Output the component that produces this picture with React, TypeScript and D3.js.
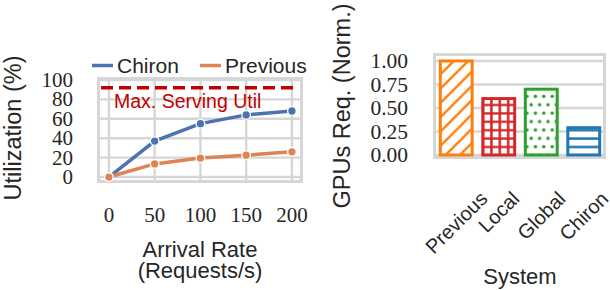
import React, { useEffect, useRef } from 'react';
import * as d3 from 'd3';

// left panel: utilization vs arrival rate
const rates = [0, 50, 100, 150, 200];
const chironUtil = [0, 37, 55, 64, 68];
const previousUtil = [0, 13.5, 19.5, 22.5, 26];
const maxServingUtil = 92;
const utilTicks = [0, 20, 40, 60, 80, 100];

// right panel: normalized GPUs required per system
const systems = ['Previous', 'Local', 'Global', 'Chiron'];
const gpusNorm = [1.0, 0.6, 0.7, 0.29];
const gpuTicks = [0, 0.25, 0.5, 0.75, 1.0];

const SANS = "'Liberation Sans', Arial, sans-serif";
const SERIF = "'Liberation Serif', 'Times New Roman', serif";
const INK = '#262626';
const GRID = '#d6d6d6';

const App: React.FC = () => {
  const svgRef = useRef<SVGSVGElement>(null);

  useEffect(() => {
    const root = d3.select(svgRef.current);
    root.selectAll('*').remove();

    const defs = root.append('defs');

    // ---------- left chart ----------
    const x = d3.scaleLinear().domain([-13, 211]).range([97, 302]);
    const y = d3.scaleLinear().domain([-4.6, 101.5]).range([181.5, 78.5]);
    const left = root.append('g');

    // grid
    left.selectAll('line.hgrid')
      .data(utilTicks)
      .enter()
      .append('line')
      .attr('x1', 98.5).attr('x2', 301.5)
      .attr('y1', d => y(d)).attr('y2', d => y(d))
      .attr('stroke', GRID).attr('stroke-width', 2.4);
    left.selectAll('line.vgrid')
      .data(rates)
      .enter()
      .append('line')
      .attr('x1', d => x(d)).attr('x2', d => x(d))
      .attr('y1', 78.5).attr('y2', 181.5)
      .attr('stroke', GRID).attr('stroke-width', 2.4);
    left.append('rect')
      .attr('x', 98.5).attr('y', 78.5)
      .attr('width', 203).attr('height', 103)
      .attr('fill', 'none').attr('stroke', GRID).attr('stroke-width', 3);

    // max serving util
    left.append('line')
      .attr('x1', 101).attr('x2', 299)
      .attr('y1', y(maxServingUtil)).attr('y2', y(maxServingUtil))
      .attr('stroke', '#c00000').attr('stroke-width', 3.5)
      .attr('stroke-dasharray', '12,6');
    left.append('text')
      .attr('x', 114).attr('y', 107.5)
      .style('font-family', SANS).style('font-size', '19.5px')
      .attr('fill', '#c00000')
      .text('Max. Serving Util');

    const line = d3.line<number>()
      .x((_, i) => x(rates[i]))
      .y(d => y(d));
    const series = [
      { name: 'Chiron', values: chironUtil, color: '#4c72b0' },
      { name: 'Previous', values: previousUtil, color: '#dd8452' },
    ];
    series.forEach(s => {
      left.append('path')
        .datum(s.values)
        .attr('d', line)
        .attr('fill', 'none')
        .attr('stroke', s.color)
        .attr('stroke-width', 3.5);
      left.selectAll(null)
        .data(s.values)
        .enter()
        .append('circle')
        .attr('cx', (_, i) => x(rates[i]))
        .attr('cy', d => y(d))
        .attr('r', 4.3)
        .attr('fill', s.color)
        .attr('stroke', 'white')
        .attr('stroke-width', 1.3);
    });

    // y ticks
    left.selectAll('text.ytick')
      .data(utilTicks)
      .enter()
      .append('text')
      .attr('x', 73).attr('y', d => y(d))
      .attr('dy', '0.33em')
      .attr('text-anchor', 'end')
      .style('font-family', SERIF).style('font-size', '21px')
      .attr('fill', INK)
      .text(d => String(d));
    // x ticks
    left.selectAll('text.xtick')
      .data(rates)
      .enter()
      .append('text')
      .attr('x', d => x(d)).attr('y', 222)
      .attr('text-anchor', 'middle')
      .style('font-family', SERIF).style('font-size', '21px')
      .attr('fill', INK)
      .text(d => String(d));

    left.append('text')
      .attr('x', 200).attr('y', 257)
      .attr('text-anchor', 'middle')
      .style('font-family', SANS).style('font-size', '22px')
      .attr('fill', INK)
      .text('Arrival Rate');
    left.append('text')
      .attr('x', 200).attr('y', 278)
      .attr('text-anchor', 'middle')
      .style('font-family', SANS).style('font-size', '22px')
      .attr('fill', INK)
      .text('(Requests/s)');
    left.append('text')
      .attr('transform', 'translate(21,128) rotate(-90)')
      .attr('text-anchor', 'middle')
      .style('font-family', SANS).style('font-size', '23.5px')
      .attr('fill', INK)
      .text('Utilization (%)');

    // legend
    const legend = [
      { name: 'Chiron', color: '#4c72b0', x0: 92 },
      { name: 'Previous', color: '#dd8452', x0: 200 },
    ];
    legend.forEach(l => {
      left.append('line')
        .attr('x1', l.x0).attr('x2', l.x0 + 21)
        .attr('y1', 65.5).attr('y2', 65.5)
        .attr('stroke', l.color).attr('stroke-width', 3.5);
      left.append('text')
        .attr('x', l.x0 + 25).attr('y', 72.5)
        .style('font-family', SANS).style('font-size', '21px')
        .attr('fill', INK)
        .text(l.name);
    });

    // ---------- right chart ----------
    const xb = d3.scaleBand<string>()
      .domain(systems)
      .range([435, 605])
      .paddingInner(0.25)
      .paddingOuter(0.125);
    const yb = d3.scaleLinear().domain([-0.027, 1.069]).range([157.5, 54.5]);
    const right = root.append('g');

    right.selectAll('line.hgrid')
      .data(gpuTicks)
      .enter()
      .append('line')
      .attr('x1', 434.5).attr('x2', 604.5)
      .attr('y1', d => yb(d)).attr('y2', d => yb(d))
      .attr('stroke', GRID).attr('stroke-width', 2.4);
    right.append('rect')
      .attr('x', 434.5).attr('y', 54.5)
      .attr('width', 170).attr('height', 103)
      .attr('fill', 'none').attr('stroke', GRID).attr('stroke-width', 3);

    // hatch patterns
    const hatch = defs.append('pattern')
      .attr('id', 'hatch-slash').attr('patternUnits', 'userSpaceOnUse')
      .attr('width', 14.3).attr('height', 14.3);
    hatch.append('path')
      .attr('d', 'M-3.6,3.6 L3.6,-3.6 M0,14.3 L14.3,0 M10.7,17.9 L17.9,10.7')
      .attr('stroke', '#ff7f0e').attr('stroke-width', 2.5);

    const grid = defs.append('pattern')
      .attr('id', 'hatch-plus').attr('patternUnits', 'userSpaceOnUse')
      .attr('width', 8.4).attr('height', 8.4);
    grid.append('path')
      .attr('d', 'M4.2,0 V8.4 M0,4.2 H8.4')
      .attr('stroke', '#d62728').attr('stroke-width', 2.5);

    const dots = defs.append('pattern')
      .attr('id', 'hatch-dots').attr('patternUnits', 'userSpaceOnUse')
      .attr('width', 8.4).attr('height', 16.8);
    [[2, 4], [6.2, 12.4]].forEach(([cx, cy]) => {
      dots.append('circle').attr('cx', cx).attr('cy', cy).attr('r', 1.8).attr('fill', '#2ca02c');
    });

    const dash = defs.append('pattern')
      .attr('id', 'hatch-dash').attr('patternUnits', 'userSpaceOnUse')
      .attr('width', 8.4).attr('height', 8.4);
    dash.append('path')
      .attr('d', 'M0,4.2 H8.4')
      .attr('stroke', '#1f77b4').attr('stroke-width', 2.5);

    const barStyles = [
      { color: '#ff7f0e', fill: 'url(#hatch-slash)' },
      { color: '#d62728', fill: 'url(#hatch-plus)' },
      { color: '#2ca02c', fill: 'url(#hatch-dots)' },
      { color: '#1f77b4', fill: 'url(#hatch-dash)' },
    ];

    const bars = right.selectAll('g.bar')
      .data(systems)
      .enter()
      .append('g');
    bars.append('rect')
      .attr('x', d => xb(d)!)
      .attr('y', (_, i) => yb(gpusNorm[i]))
      .attr('width', xb.bandwidth())
      .attr('height', (_, i) => yb(0) - yb(gpusNorm[i]))
      .attr('fill', 'white');
    bars.append('rect')
      .attr('x', d => xb(d)!)
      .attr('y', (_, i) => yb(gpusNorm[i]))
      .attr('width', xb.bandwidth())
      .attr('height', (_, i) => yb(0) - yb(gpusNorm[i]))
      .attr('fill', (_, i) => barStyles[i].fill)
      .attr('stroke', (_, i) => barStyles[i].color)
      .attr('stroke-width', 3);

    right.selectAll('text.ytick')
      .data(gpuTicks)
      .enter()
      .append('text')
      .attr('x', 408).attr('y', d => yb(d))
      .attr('dy', '0.33em')
      .attr('text-anchor', 'end')
      .style('font-family', SERIF).style('font-size', '21.5px')
      .attr('fill', INK)
      .text(d => d.toFixed(2));

    // rotated category labels: center on the bar, top of rotated box at fixed y
    const labelSize = 20;
    const labelTop = 188;
    right.selectAll('text.xtick')
      .data(systems)
      .enter()
      .append('text')
      .attr('text-anchor', 'middle')
      .style('font-family', SANS).style('font-size', `${labelSize}px`)
      .attr('fill', INK)
      .text(d => d)
      .each(function (d) {
        const w = (this as SVGTextElement).getComputedTextLength();
        const cx = xb(d)! + xb.bandwidth() / 2;
        const cy = labelTop + (w + labelSize) * Math.SQRT1_2 / 2;
        d3.select(this)
          .attr('x', 0).attr('y', 0)
          .attr('dy', '0.35em')
          .attr('transform', `translate(${cx},${cy}) rotate(-45)`);
      });

    right.append('text')
      .attr('x', 520).attr('y', 284)
      .attr('text-anchor', 'middle')
      .style('font-family', SANS).style('font-size', '22px')
      .attr('fill', INK)
      .text('System');
    right.append('text')
      .attr('transform', 'translate(350,106) rotate(-90)')
      .attr('text-anchor', 'middle')
      .style('font-family', SANS).style('font-size', '23.5px')
      .attr('fill', INK)
      .text('GPUs Req. (Norm.)');
  }, []);

  return (
    <svg
      ref={svgRef}
      width={610}
      height={290}
      style={{ position: 'absolute', left: 0, top: 0, background: 'white' }}
    />
  );
};

export default App;
